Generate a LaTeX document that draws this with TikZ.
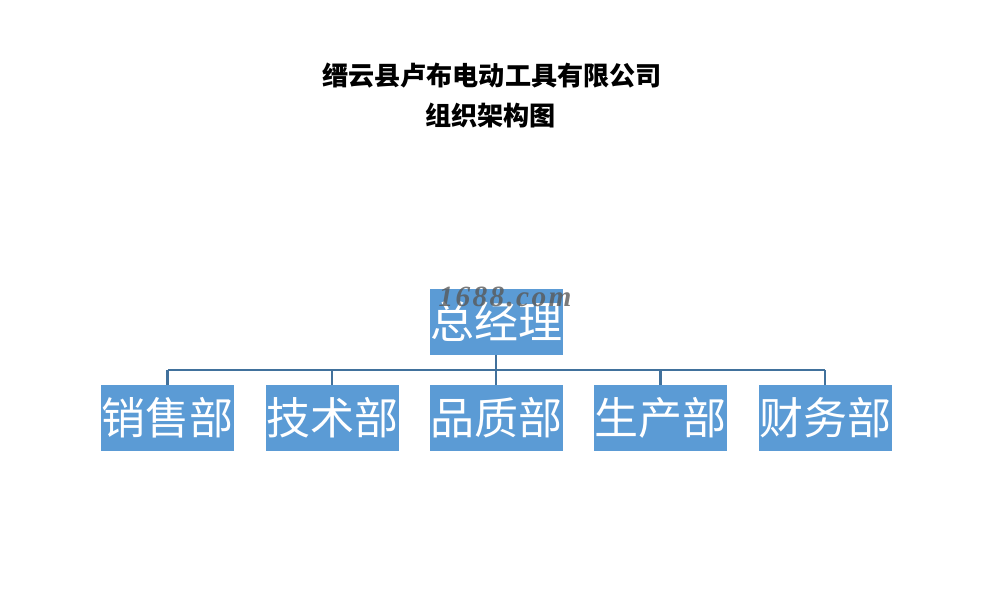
\documentclass[tikz,border=0pt]{standalone}
\usepackage{fontspec}
\usepackage{tikz}
\usetikzlibrary{positioning}
\newfontfamily\cjk{Noto Sans CJK SC}
\newfontfamily\wmfont[LetterSpace=8]{Liberation Serif}
\definecolor{boxblue}{HTML}{5B9BD5}
\definecolor{linkblue}{HTML}{41719C}
\tikzset{
  dept/.style={fill=boxblue, text=white, minimum width=99.75pt, minimum height=49.5pt,
               inner sep=0pt, font=\cjk\fontsize{33}{33}\selectfont},
  link/.style={draw=linkblue, line width=1.7pt}
}

\begin{document}
\begin{tikzpicture}[x=0.75pt, y=-0.75pt]
      \useasboundingbox (0, 0) rectangle (1007, 592);
      \draw (492, 76) node (title) {\cjk\bfseries\fontsize{19.6}{19.6}\selectfont 缙云县卢布电动工具有限公司}
            (490.5, 116) node (subtitle) {\cjk\bfseries\fontsize{19.6}{19.6}\selectfont 组织架构图};
      \draw (496, 321.5) node (gm) [dept] {总经理}
            (167.5, 418) node (sales) [dept] {销售部}
            (332, 418) node (tech) [dept] {技术部}
            (496, 418) node (qa) [dept] {品质部}
            (660.5, 418) node (prod) [dept] {生产部}
            (825, 418) node (fin) [dept] {财务部};
      \coordinate (bus) at (496, 370);
      \draw [link] (gm.south) -- (bus)
                   (bus -| sales.north) -- (bus -| fin.north);
      \foreach \d in {sales, tech, qa, prod, fin}
        \draw [link] (bus -| \d.north) -- (\d.north);
      % watermark
      \node (mark) [text=black!65, opacity=0.8, inner sep=0pt] at (505, 297)
            {\wmfont\itshape\bfseries\fontsize{22}{22}\selectfont 1688.com};
\end{tikzpicture}
\end{document}
